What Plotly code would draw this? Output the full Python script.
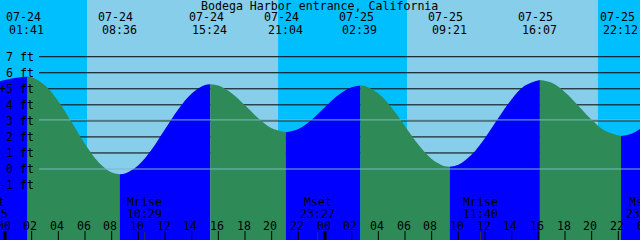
import plotly.graph_objects as go

# ---------------- data ----------------
title = "Bodega Harbor entrance, California"

# tide curve (hours since 07-24 00:00, feet)
curve_t = [-1, -0.5, 0, 0.5, 1, 1.683,
           2, 3, 4, 5, 6, 7, 8, 8.6,
           9, 10, 11, 12, 13, 14, 15, 15.4,
           16, 17, 18, 19, 20, 21.067,
           22, 23, 24, 25, 26, 26.65,
           27, 28, 29, 30, 31, 32, 33, 33.35,
           34, 35, 36, 37, 38, 39, 40.117,
           41, 42, 43, 44, 45, 46.2,
           47, 48]
curve_h = [5.35, 5.45, 5.55, 5.64, 5.71, 5.75,
           5.72, 5.22, 4.22, 2.91, 1.56, 0.44, -0.22, -0.33,
           -0.28, 0.24, 1.22, 2.48, 3.73, 4.71, 5.23, 5.28,
           5.20, 4.73, 3.98, 3.17, 2.54, 2.29,
           2.49, 3.07, 3.86, 4.62, 5.10, 5.20,
           5.17, 4.71, 3.82, 2.67, 1.53, 0.63, 0.17, 0.14,
           0.26, 0.90, 1.94, 3.18, 4.35, 5.20, 5.55,
           5.37, 4.79, 3.95, 3.07, 2.38, 2.06,
           2.20, 2.71]

# high / low tide events
ext_t = [1.683, 8.6, 15.4, 21.067, 26.65, 33.35, 40.117, 46.2]
ext_date = ["07-24", "07-24", "07-24", "07-24", "07-25", "07-25", "07-25", "07-25"]
ext_time = ["01:41", "08:36", "15:24", "21:04", "02:39", "09:21", "16:07", "22:12"]

# sunrise / sunset (hours)
sun_t = [6.15, 20.48, 30.15, 44.47]

# moon events
moon_name = ["Mset", "Mrise", "Mset", "Mrise", "Mset"]
moon_time = ["22:55", "10:29", "23:27", "11:40", "23:52"]
moon_t = [-1.083, 10.483, 23.45, 35.667, 47.867]

# y axis labels
ylab_v = [-1, 0, 1, 2, 3, 4, 5, 6, 7]
ylab_txt = ["-1 ft", "0 ft", "1 ft", "2 ft", "3 ft", "4 ft", "+5 ft", "6 ft", "7 ft"]
grid_v = [1, 2, 3, 4, 5, 6, 7]
datum_v = 0
msl_v = 3.06

hour_ticks = list(range(0, 49, 2))
hour_txt = ["%02d" % (h % 24) for h in hour_ticks]

# ---------------- styling ----------------
W, H = 640, 240
X0, X1 = -0.375, 47.625
Y0, Y1 = -4.426, 10.536
NIGHT = "#00BFFF"
DAY = "#87CEEB"
FLOOD = "#0000FF"
EBB = "#2E8B57"
MSLC = "#78B8C8"
FONT = dict(family="DejaVu Sans Mono", size=11.6, color="black")


def px_to_t(px):
    return X0 + (X1 - X0) * px / W


def t_to_paper(t):
    return (t - X0) / (X1 - X0)


def py_to_paper(py):
    return 1 - py / H


fig = go.Figure()

# water segments between consecutive extrema
bounds = [X0 - 1] + ext_t + [X1 + 1]
for i in range(len(bounds) - 1):
    a, b = bounds[i], bounds[i + 1]
    xs = [t for t in curve_t if a <= t <= b]
    ys = [curve_h[curve_t.index(t)] for t in xs]
    if len(xs) < 2:
        continue
    color = FLOOD if ys[-1] > ys[0] else EBB
    fig.add_trace(go.Scatter(x=[xs[0], xs[-1]], y=[Y0 - 1, Y0 - 1], mode="lines",
                             line=dict(width=0), hoverinfo="skip", showlegend=False))
    fig.add_trace(go.Scatter(x=xs, y=ys, mode="lines", fill="tonexty", fillcolor=color,
                             line=dict(width=0, shape="spline", color=color),
                             hoverinfo="skip", showlegend=False))

shapes = []
# day / night bands
edges = [X0 - 1] + sun_t + [X1 + 1]
for i in range(len(edges) - 1):
    shapes.append(dict(type="rect", xref="x", yref="paper", x0=edges[i], x1=edges[i + 1],
                       y0=0, y1=1, fillcolor=NIGHT if i % 2 == 0 else DAY,
                       line=dict(width=0), layer="below"))
# grid lines (under the water)
gx0 = px_to_t(39)
for v in grid_v:
    shapes.append(dict(type="line", xref="x", yref="y", x0=gx0, x1=X1 + 1, y0=v, y1=v,
                       line=dict(color="black", width=1), layer="below"))
# datum and MSL lines (over everything)
for v in [datum_v, msl_v]:
    shapes.append(dict(type="line", xref="x", yref="y", x0=gx0, x1=X1 + 1, y0=v, y1=v,
                       line=dict(color=MSLC, width=1), layer="above"))
# hour ticks
for h in hour_ticks:
    shapes.append(dict(type="line", xref="x", yref="paper", x0=h, x1=h,
                       y0=0, y1=py_to_paper(231),
                       line=dict(color="black", width=3 if h % 24 == 0 else 1), layer="above"))
for t in moon_t:
    shapes.append(dict(type="line", xref="x", yref="paper", x0=t, x1=t,
                       y0=0, y1=py_to_paper(232),
                       line=dict(color="#333333", width=1), layer="above"))

ann = []
ann.append(dict(text=title, xref="paper", yref="paper", x=319.5 / W, y=py_to_paper(5.5),
                xanchor="center", yanchor="middle", showarrow=False, font=FONT))
for t, d, tm in zip(ext_t, ext_date, ext_time):
    ann.append(dict(text=d, xref="paper", yref="paper", x=t_to_paper(t), y=py_to_paper(17.5),
                    xshift=-4, xanchor="center", yanchor="middle", showarrow=False, font=FONT))
    ann.append(dict(text=tm, xref="paper", yref="paper", x=t_to_paper(t), y=py_to_paper(29.5),
                    xshift=-0.5, xanchor="center", yanchor="middle", showarrow=False, font=FONT))
for v, s in zip(ylab_v, ylab_txt):
    ann.append(dict(text=s, xref="paper", yref="y", x=36 / W, y=v,
                    xanchor="right", yanchor="middle", showarrow=False, font=FONT))
for h, s in zip(hour_ticks, hour_txt):
    ann.append(dict(text=s, xref="paper", yref="paper", x=t_to_paper(h), y=py_to_paper(226),
                    xshift=-1.5, xanchor="center", yanchor="middle", showarrow=False, font=FONT))
for t, n, tm in zip(moon_t, moon_name, moon_time):
    ann.append(dict(text=n, xref="paper", yref="paper", x=t_to_paper(t), y=py_to_paper(202),
                    xanchor="center", yanchor="middle", showarrow=False, font=FONT))
    ann.append(dict(text=tm, xref="paper", yref="paper", x=t_to_paper(t), y=py_to_paper(213.5),
                    xanchor="center", yanchor="middle", showarrow=False, font=FONT))

fig.update_layout(
    width=W, height=H, margin=dict(l=0, r=0, t=0, b=0, pad=0),
    paper_bgcolor=DAY, plot_bgcolor=DAY,
    xaxis=dict(range=[X0, X1], visible=False, fixedrange=True),
    yaxis=dict(range=[Y0, Y1], visible=False, fixedrange=True),
    shapes=shapes, annotations=ann, showlegend=False,
)

fig.write_html("out.html", config={"displayModeBar": False})
